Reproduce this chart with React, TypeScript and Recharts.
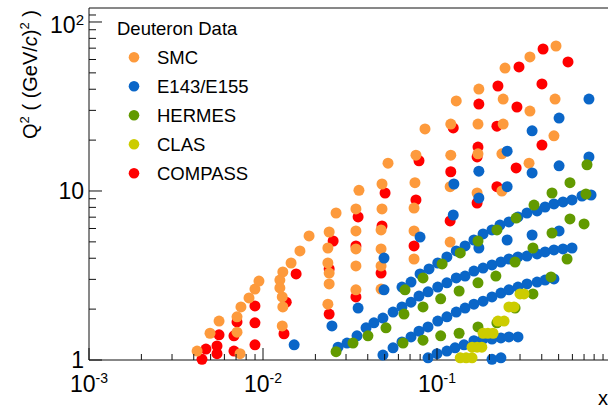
import React from 'react';
import { ScatterChart, Scatter, XAxis, YAxis, ReferenceLine, Legend } from 'recharts';

const FONT = '"Liberation Sans", Arial, Helvetica, sans-serif';
const AXIS = '#111';

// ---- data: [x, Q^2] ----
const smcPoints: [number, number][] = [
  [0.00418, 1.13], [0.00496, 1.44], [0.00559, 1.70], [0.00709, 1.80], [0.00709, 1.46], [0.00738, 1.09],
  [0.00747, 2.06], [0.00831, 2.33], [0.00899, 2.63], [0.00948, 2.93],
  [0.0130, 3.32], [0.0125, 2.97], [0.0125, 2.67], [0.0129, 2.36], [0.0130, 2.06], [0.0129, 1.59],
  [0.0145, 3.75], [0.0163, 4.42], [0.0184, 5.42], [0.0263, 7.41], [0.0356, 10.1], [0.0523, 14.6],
  [0.0240, 5.72], [0.0236, 4.60], [0.0236, 3.75], [0.0240, 3.27], [0.0240, 2.82], [0.0236, 2.14],
  [0.0342, 7.83], [0.0342, 5.80], [0.0342, 4.54], [0.0342, 3.60], [0.0342, 2.60],
  [0.0483, 11.0], [0.0483, 7.83], [0.0477, 5.88], [0.0477, 4.54], [0.0477, 3.60], [0.0477, 2.63],
  [0.0757, 16.3], [0.0747, 11.2], [0.0738, 7.93], [0.0738, 5.80], [0.0738, 3.96],
  [0.0853, 23.3], [0.120, 24.9], [0.120, 16.3], [0.119, 10.6], [0.119, 4.99],
  [0.129, 34.1], [0.174, 40.1], [0.172, 24.9], [0.172, 16.6], [0.170, 9.73],
  [0.246, 53.4], [0.240, 35.0], [0.240, 24.9], [0.236, 16.6], [0.236, 10.0],
  [0.342, 62.1], [0.342, 29.7], [0.338, 14.6],
  [0.483, 72.1], [0.477, 35.0], [0.470, 21.2],
];

const e143Points: [number, number][] = [
  [0.0629, 2.70], [0.0709, 2.89], [0.0799, 3.23], [0.0900, 3.46], [0.101, 3.75], [0.114, 4.07], [0.129, 4.42],
  [0.145, 4.73], [0.163, 5.13], [0.184, 5.57], [0.207, 5.88], [0.230, 6.29], [0.259, 6.56], [0.292, 7.02],
  [0.329, 7.41], [0.376, 7.62], [0.418, 8.04], [0.470, 8.38], [0.530, 8.61], [0.597, 8.85], [0.681, 9.34], [0.768, 9.47],
  [0.0270, 1.19], [0.0304, 1.26], [0.0347, 1.39], [0.0391, 1.55], [0.0434, 1.66], [0.0489, 1.77], [0.0559, 1.92],
  [0.0629, 2.06], [0.0709, 2.20], [0.0788, 2.39], [0.0888, 2.53], [0.101, 2.70], [0.114, 2.86], [0.129, 3.06],
  [0.145, 3.14], [0.163, 3.36], [0.184, 3.50], [0.207, 3.65], [0.233, 3.80], [0.259, 3.96], [0.292, 4.07],
  [0.329, 4.12], [0.376, 4.24], [0.418, 4.36], [0.470, 4.48], [0.530, 4.54], [0.597, 4.60],
  [0.0489, 1.07], [0.0559, 1.18], [0.0629, 1.28], [0.0709, 1.37], [0.0788, 1.48], [0.0888, 1.57], [0.101, 1.70],
  [0.114, 1.80], [0.129, 1.92], [0.145, 2.03], [0.163, 2.14], [0.184, 2.23], [0.207, 2.36], [0.233, 2.49],
  [0.259, 2.60], [0.292, 2.70], [0.329, 2.82], [0.376, 2.89], [0.418, 2.97], [0.470, 3.02],
  [0.0888, 1.03], [0.100, 1.09], [0.114, 1.13], [0.127, 1.18], [0.143, 1.23], [0.163, 1.30], [0.184, 1.33],
  [0.207, 1.33], [0.233, 1.35], [0.259, 1.37], [0.292, 1.37], [0.207, 1.01], [0.233, 1.03],
  [0.0151, 1.23], [0.0249, 1.59], [0.0352, 2.03], [0.0496, 2.60], [0.0496, 4.01], [0.0799, 5.34],
  [0.124, 7.21], [0.125, 11.0], [0.174, 9.09], [0.174, 13.1], [0.253, 17.2], [0.253, 10.6], [0.253, 5.13],
  [0.174, 4.60], [0.352, 22.7], [0.352, 12.8], [0.352, 5.49], [0.503, 27.0], [0.503, 14.1], [0.503, 5.80],
  [0.747, 35.0], [0.747, 15.9],
];

const hermesPoints: [number, number][] = [
  [0.0263, 1.12], [0.0329, 1.26], [0.0401, 1.39], [0.0509, 1.55], [0.0646, 1.87], [0.0831, 2.06], [0.105, 2.30],
  [0.134, 2.56], [0.172, 2.86], [0.218, 3.14], [0.281, 3.80], [0.356, 4.60], [0.458, 5.64], [0.581, 6.83], [0.700, 6.38],
  [0.0655, 2.60], [0.0831, 3.06], [0.107, 3.70], [0.136, 4.30], [0.172, 5.06], [0.221, 5.88], [0.285, 6.92],
  [0.361, 8.26], [0.458, 9.73], [0.581, 11.2], [0.718, 9.60], [0.728, 14.3],
  [0.0638, 1.26], [0.0831, 1.31], [0.105, 1.39], [0.134, 1.44], [0.172, 1.57], [0.221, 1.66], [0.281, 2.03],
  [0.356, 2.46], [0.452, 3.10], [0.559, 3.96],
];

const clasPoints: [number, number][] = [
  [0.136, 1.03], [0.147, 1.03], [0.159, 1.03],
  [0.159, 1.19], [0.170, 1.19], [0.181, 1.19],
  [0.184, 1.44], [0.196, 1.44], [0.210, 1.44],
  [0.224, 1.70], [0.243, 1.70],
  [0.259, 2.06], [0.277, 2.06],
  [0.300, 2.46], [0.316, 2.46],
];

const compassPoints: [number, number][] = [
  [0.00446, 1.01], [0.00470, 1.16], [0.00544, 1.09], [0.00544, 1.21], [0.00559, 1.41], [0.00681, 1.13],
  [0.00681, 1.39], [0.00709, 1.68], [0.00899, 1.23], [0.00899, 1.66], [0.00899, 2.09], [0.0132, 1.43],
  [0.0136, 2.20], [0.0155, 3.23], [0.0253, 5.06], [0.0352, 7.02], [0.0503, 9.73], [0.0788, 15.1],
  [0.0240, 3.46], [0.0240, 1.87], [0.0342, 2.36], [0.0477, 3.27], [0.0342, 4.73], [0.0483, 6.21],
  [0.0757, 8.85], [0.0738, 4.73], [0.120, 13.0], [0.119, 6.65], [0.170, 8.49], [0.170, 15.9],
  [0.124, 23.6], [0.172, 18.2], [0.174, 32.7], [0.224, 41.8], [0.221, 24.2], [0.221, 10.6],
  [0.296, 54.2], [0.288, 31.4], [0.285, 13.7], [0.407, 69.2], [0.401, 43.0], [0.401, 18.7], [0.566, 58.0],
];

// ---- ticks ----
const xMajorTicks = [0.001, 0.01, 0.1, 1];
const xMajorLabels: [string, string][] = [['10', '-3'], ['10', '-2'], ['10', '-1'], ['', '']];
const xMinorTicks = [
  0.002, 0.003, 0.004, 0.005, 0.006, 0.007, 0.008, 0.009,
  0.02, 0.03, 0.04, 0.05, 0.06, 0.07, 0.08, 0.09,
  0.2, 0.3, 0.4, 0.5, 0.6, 0.7, 0.8, 0.9,
];
const yMajorTicks = [1, 10, 100];
const yMajorLabels: [string, string][] = [['1', ''], ['10', ''], ['10', '2']];
const yMinorTicks = [2, 3, 4, 5, 6, 7, 8, 9, 20, 30, 40, 50, 60, 70, 80, 90, 110];

const xTicks = [...xMajorTicks, ...xMinorTicks].sort((a, b) => a - b);
const yTicks = [...yMajorTicks, ...yMinorTicks].sort((a, b) => a - b);

const legendTitle = 'Deuteron Data';
const seriesList = [
  { name: 'SMC', color: '#fd9a3c', points: smcPoints },
  { name: 'E143/E155', color: '#0a66c8', points: e143Points },
  { name: 'HERMES', color: '#629a00', points: hermesPoints },
  { name: 'CLAS', color: '#cccc00', points: clasPoints },
  { name: 'COMPASS', color: '#ff0000', points: compassPoints },
];
const drawOrder = ['COMPASS', 'SMC', 'E143/E155', 'HERMES', 'CLAS'];

const toRows = (pts: [number, number][]) => pts.map(([x, y]) => ({ x, y }));

const XTick = (props: any) => {
  const { x, y, payload } = props;
  const idx = xMajorTicks.indexOf(payload.value);
  const major = idx >= 0;
  const lab = major ? xMajorLabels[idx] : ['', ''];
  return (
    <g>
      <line x1={x} x2={x} y1={y} y2={y - (major ? 12 : 6)} stroke={AXIS} strokeWidth={1} />
      {major && lab[0] && (
        <text x={x} y={y + 32} textAnchor="middle" fontSize={23} fontFamily={FONT} fill="#000">
          <tspan>{lab[0]}</tspan>
          {lab[1] && <tspan dy={-9} fontSize={14}>{lab[1]}</tspan>}
        </text>
      )}
    </g>
  );
};

const YTick = (props: any) => {
  const { x, y, payload } = props;
  const idx = yMajorTicks.indexOf(payload.value);
  const major = idx >= 0;
  const sup = major ? yMajorLabels[idx][1] : '';
  return (
    <g>
      <line x1={x} x2={x + (major ? 13 : 7)} y1={y} y2={y} stroke={AXIS} strokeWidth={1} />
      {major && (
        <text x={x - 5} y={y + (sup ? 11 : 8)} textAnchor="end" fontSize={23} fontFamily={FONT} fill="#000">
          <tspan>{yMajorLabels[idx][0]}</tspan>
          {sup && <tspan dy={-8} fontSize={15}>{sup}</tspan>}
        </text>
      )}
    </g>
  );
};

const YTitle = () => (
  <text transform="translate(37,10) rotate(-90)" textAnchor="end" fontSize={20} fontFamily={FONT} fill="#000">
    <tspan>Q</tspan>
    <tspan fontSize={13} dy={-8}>2</tspan>
    <tspan dy={8}>{' ( (GeV/'}</tspan>
    <tspan fontStyle="italic">c</tspan>
    <tspan>)</tspan>
    <tspan fontSize={13} dy={-8}>2</tspan>
    <tspan dy={8}>{' )'}</tspan>
  </text>
);

const XTitle = () => (
  <text x={608} y={405} textAnchor="end" fontSize={20} fontFamily={FONT} fill="#000">x</text>
);

const LegendBox = () => (
  <svg width={300} height={200} style={{ display: 'block' }}>
    <text x={117} y={34.5} fontSize={18.5} fontFamily={FONT} fill="#000">{legendTitle}</text>
    {seriesList.map((s, i) => (
      <g key={s.name}>
        <circle cx={134} cy={57.3 + i * 29} r={5.3} fill={s.color} />
        <text x={157} y={57.3 + i * 29 + 6.6} fontSize={18.5} fontFamily={FONT} fill="#000">{s.name}</text>
      </g>
    ))}
  </svg>
);

const makeShape = (color: string) => (p: any) => <circle cx={p.cx} cy={p.cy} r={5.5} fill={color} />;

export default function App() {
  return (
    <div style={{ position: 'fixed', left: 0, top: 0, width: 608, height: 410, overflow: 'hidden', background: '#fff' }}>
      <ScatterChart width={620} height={410} margin={{ top: 8, right: 9, bottom: 0, left: 0 }}>
        <XAxis
          type="number" dataKey="x" scale="log" domain={[0.001, 1]} ticks={xTicks} interval={0}
          tickSize={0} tickMargin={0} tickLine={false} tick={(p: any) => <XTick {...p} />}
          axisLine={{ stroke: AXIS }} height={50} label={<XTitle />}
        />
        <YAxis
          type="number" dataKey="y" scale="log" domain={[1, 121]} ticks={yTicks} interval={0}
          tickSize={0} tickMargin={0} tickLine={false} tick={(p: any) => <YTick {...p} />}
          axisLine={{ stroke: AXIS }} width={89} label={<YTitle />}
        />
        <ReferenceLine y={121} stroke={AXIS} />
        <ReferenceLine x={1} stroke={AXIS} />
        {drawOrder.map((n) => {
          const s = seriesList.find((q) => q.name === n)!;
          return (
            <Scatter key={s.name} name={s.name} data={toRows(s.points)} fill={s.color}
              shape={makeShape(s.color)} isAnimationActive={false} />
          );
        })}
        <Legend layout="vertical" align="center" verticalAlign="middle"
          wrapperStyle={{ left: 0, top: 0, width: 300, height: 200 }} content={() => <LegendBox />} />
      </ScatterChart>
    </div>
  );
}
